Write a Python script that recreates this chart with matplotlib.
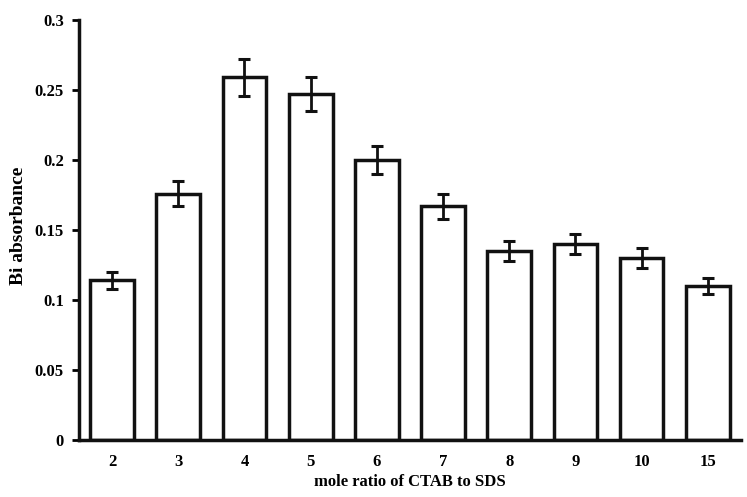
import numpy as np
import matplotlib
matplotlib.use("Agg")
import matplotlib.pyplot as plt

ratios = ["2", "3", "4", "5", "6", "7", "8", "9", "10", "15"]
absorbance = [0.114, 0.176, 0.259, 0.247, 0.200, 0.167, 0.135, 0.140, 0.130, 0.110]
errors = [0.006, 0.009, 0.013, 0.012, 0.010, 0.009, 0.007, 0.007, 0.007, 0.006]

plt.rcParams['font.family'] = ['Liberation Serif', 'DejaVu Serif']
plt.rcParams['font.weight'] = 'bold'

fig = plt.figure(figsize=(7.47, 4.97), dpi=100)
ax = fig.add_axes([0.1058, 0.1147, 0.886, 0.845])

x = np.arange(len(ratios))
ax.bar(x, absorbance, width=0.66, color='white', edgecolor='#111111', linewidth=2.5,
       yerr=errors, error_kw=dict(ecolor='#111111', elinewidth=2, capsize=4, capthick=2.2))

ax.set_xlim(-0.5, len(ratios) - 0.5)
ax.set_ylim(0, 0.3)
ax.set_yticks([0, 0.05, 0.1, 0.15, 0.2, 0.25, 0.3])
ax.set_yticklabels(["0", "0.05", "0.1", "0.15", "0.2", "0.25", "0.3"])
ax.set_xticks(x)
ax.set_xticklabels(ratios)

for s in ['top', 'right']:
    ax.spines[s].set_visible(False)
for s in ['left', 'bottom']:
    ax.spines[s].set_linewidth(2.5)
    ax.spines[s].set_color('#111111')

ax.tick_params(axis='y', direction='out', length=5, width=2, labelsize=12, pad=6)
ax.tick_params(axis='x', length=0, labelsize=12, pad=10)

ax.set_xlabel("mole ratio of CTAB to SDS", fontsize=12, fontweight='bold', labelpad=3)
ax.set_ylabel("Bi absorbance", fontsize=14, fontweight='bold')
ax.yaxis.set_label_coords(-0.078, 0.51)

fig.savefig("out.png", dpi=100)
